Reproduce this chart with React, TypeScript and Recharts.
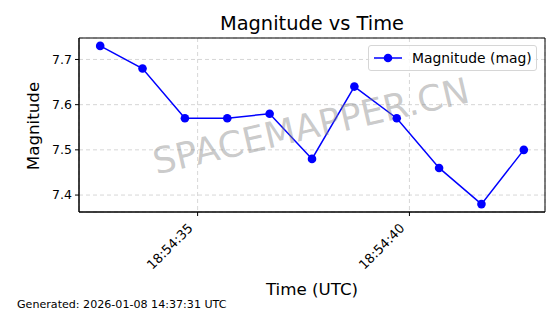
import { LineChart, Line, XAxis, YAxis, CartesianGrid, ReferenceArea } from 'recharts';

// seconds after 18:54:00 UTC
const times = [32.7, 33.7, 34.7, 35.7, 36.7, 37.7, 38.7, 39.7, 40.7, 41.7, 42.7];
const magnitudes = [7.73, 7.68, 7.57, 7.57, 7.58, 7.48, 7.64, 7.57, 7.46, 7.38, 7.5];
const xTicks = [35, 40];
const yTicks = [7.4, 7.5, 7.6, 7.7];
const xDomain: [number, number] = [32.2, 43.2];
const yDomain: [number, number] = [7.3625, 7.7475];

const data = times.map((t, i) => ({ t, mag: magnitudes[i] }));

const FONT = '"DejaVu Sans", sans-serif';

function fmtTime(v: number) {
  return `18:54:${String(Math.round(v)).padStart(2, '0')}`;
}

// rotated tick label, right end just left of the tick
function TimeTick(props: any) {
  const { x, payload } = props;
  return (
    <g transform={`translate(${x - 4},229)`}>
      <text x={0} y={0} textAnchor="end" transform="rotate(-45)" fill="#000" fontSize={13} fontFamily={FONT}>
        {fmtTime(payload.value)}
      </text>
    </g>
  );
}

function LegendBox() {
  return (
    <div
      style={{
        position: 'absolute',
        left: 368,
        top: 45,
        width: 169,
        height: 26,
        border: '1px solid #d6d6d6',
        borderRadius: 3,
        background: 'rgba(255,255,255,0.8)',
        display: 'flex',
        alignItems: 'center',
        fontFamily: FONT,
        fontSize: 13.9,
        boxSizing: 'border-box',
        whiteSpace: 'nowrap',
      }}
    >
      <svg width={39} height={20} style={{ marginLeft: 4, flex: 'none' }}>
        <line x1={1} y1={10} x2={29} y2={10} stroke="#0000ff" strokeWidth={1.5} />
        <circle cx={15} cy={10} r={4.3} fill="#0000ff" />
      </svg>
      <span style={{ color: '#000' }}>Magnitude (mag)</span>
    </div>
  );
}

export default function App() {
  return (
    <div style={{ position: 'absolute', left: 0, top: 0, width: 560, height: 314, background: '#fff' }}>
      <LineChart width={560} height={314} data={data} margin={{ top: 38, right: 15, left: 19, bottom: 52 }}>
        <CartesianGrid stroke="#cccccc" strokeDasharray="4 3" strokeWidth={0.8} />
        <XAxis
          dataKey="t"
          type="number"
          domain={xDomain}
          ticks={xTicks}
          allowDataOverflow
          height={50}
          tickSize={4}
          tickMargin={0}
          stroke="#000"
          tick={<TimeTick />}
        />
        <YAxis
          type="number"
          domain={yDomain}
          ticks={yTicks}
          allowDataOverflow
          width={60}
          tickSize={4}
          tickMargin={3}
          stroke="#000"
          tickFormatter={(v: number) => v.toFixed(1)}
          tick={{ fill: '#000', fontSize: 12.5, fontFamily: FONT }}
        />
        <ReferenceArea x1={xDomain[0]} x2={xDomain[1]} y1={yDomain[0]} y2={yDomain[1]} fill="none" stroke="#000" strokeWidth={1} ifOverflow="visible" />
        <Line
          type="linear"
          dataKey="mag"
          stroke="#0000ff"
          strokeWidth={1.5}
          dot={{ r: 4.3, fill: '#0000ff', stroke: '#0000ff', strokeWidth: 0 }}
          activeDot={false}
          isAnimationActive={false}
        />
      </LineChart>
      <LegendBox />
      <div style={{ position: 'absolute', left: 79, width: 466, top: 13, textAlign: 'center', fontFamily: FONT, fontSize: 19.4, lineHeight: '22px', color: '#000' }}>
        Magnitude vs Time
      </div>
      <div style={{ position: 'absolute', left: 79, width: 466, top: 280, textAlign: 'center', fontFamily: FONT, fontSize: 16.7, lineHeight: '18px', color: '#000' }}>
        Time (UTC)
      </div>
      <div
        style={{
          position: 'absolute',
          left: 33,
          top: 126,
          transform: 'translate(-50%,-50%) rotate(-90deg)',
          fontFamily: FONT,
          fontSize: 16.7,
          lineHeight: '18px',
          whiteSpace: 'nowrap',
          color: '#000',
        }}
      >
        Magnitude
      </div>
      <div style={{ position: 'absolute', left: 17, top: 298, fontFamily: FONT, fontSize: 11.1, lineHeight: '13px', color: '#000', whiteSpace: 'nowrap' }}>
        Generated: 2026-01-08 14:37:31 UTC
      </div>
      <div
        style={{
          position: 'absolute',
          left: 311,
          top: 126,
          transform: 'translate(-50%,-50%) rotate(-13deg)',
          fontFamily: FONT,
          fontSize: 36,
          whiteSpace: 'nowrap',
          color: 'rgba(128,128,128,0.42)',
          pointerEvents: 'none',
        }}
      >
        SPACEMAPPER.CN
      </div>
    </div>
  );
}
